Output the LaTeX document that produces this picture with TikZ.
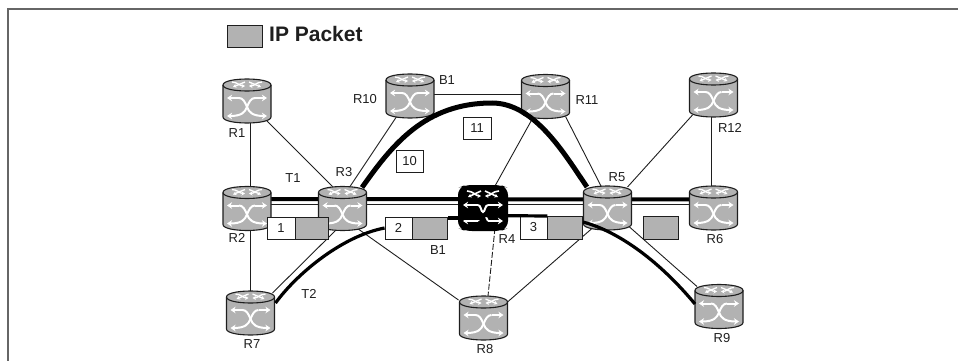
\documentclass[tikz,border=0pt]{standalone}
\usepackage{fontspec}
\setmainfont{Liberation Sans}
\usetikzlibrary{arrows.meta,backgrounds}
\definecolor{rgray}{HTML}{B2B2B2}
\definecolor{ink}{HTML}{1E1E1E}
\tikzset{
  routerbase/.style={minimum width=48pt,minimum height=44pt,inner sep=0pt,outer sep=0pt},
  lab/.style={font=\fontsize{13}{15}\selectfont,text=ink,inner sep=0pt},
  thin link/.style={draw=ink,line width=0.9pt},
  thick link/.style={draw=black,line width=3.2pt},
  thicker link/.style={draw=black,line width=4pt},
  arch link/.style={draw=black,line width=5pt},
  numbox/.style={draw=ink,line width=0.9pt,fill=white,inner sep=0pt,font=\fontsize{13}{15}\selectfont,text=ink},
  pktbox/.style={draw=ink,line width=0.9pt,fill=rgray,inner sep=0pt},
  wa/.style={draw=white,line width=2pt,-{Stealth[length=5pt,width=6.5pt]}},
  wb/.style={draw=white,line width=1.3pt,-{Stealth[length=3.5pt,width=4pt]}},
}
% cylinder body
\newcommand\cylbody[2]{%
  \path[fill=#1,draw=#2,line width=1.1pt] (-24,-16) .. controls (-24,-24) and (24,-24) .. (24,-16)
     -- (24,16) .. controls (24,24) and (-24,24) .. (-24,16) -- cycle;
  \path[draw=#2,line width=1.1pt] (-24,-16) .. controls (-24,-8) and (24,-8) .. (24,-16);
}
\newcommand\rtopglyphs{%
  \draw[wb] (-15,-19) .. controls (-10,-19) and (-7,-15) .. (-2,-15);
  \draw[wb] (-2,-19) -- (-14,-14);
  \draw[wb] (15,-19) .. controls (10,-19) and (7,-15) .. (2,-15);
  \draw[wb] (2,-19) -- (14,-14);
}
\newcommand\router[3]{%
  \node[routerbase] (#1) at (#2,#3) {};
  \begin{scope}[shift={(#2,#3)}]
    \cylbody{rgray}{ink}
    \rtopglyphs
    \draw[wa] (-8,-3) .. controls (-4,-3) and (-2,1) .. (0,6) .. controls (2,11) and (5,15) .. (20,15);
    \draw[wa] (8,-3) .. controls (4,-3) and (2,1) .. (0,6) .. controls (-2,11) and (-5,15) .. (-20,15);
    \draw[wa] (-8,-3) -- (-20,-3);
    \draw[wa] (8,-3) -- (20,-3);
  \end{scope}
}
\newcommand\blackrouter[3]{%
  \node[routerbase] (#1) at (#2,#3) {};
  \begin{scope}[shift={(#2,#3)}]
    \path[fill=black,rounded corners=7pt] (-25,-20) -- (-18,-23) -- (18,-23) -- (25,-20) -- (25,20) -- (18,23) -- (-18,23) -- (-25,20) -- cycle;
    \draw[wb,line width=1.6pt] (-16,-17) .. controls (-10,-17) and (-7,-12) .. (-2,-12);
    \draw[wb,line width=1.6pt] (-2,-17) -- (-15,-11);
    \draw[wb,line width=1.6pt] (16,-17) .. controls (10,-17) and (7,-12) .. (2,-12);
    \draw[wb,line width=1.6pt] (2,-17) -- (15,-11);
    \draw[wa] (-5,-3) -- (-20,-3);
    \draw[wa] (5,-3) -- (20,-3);
    \draw[draw=white,line width=2pt] (-5,-3) .. controls (-2,-3) and (-2,4) .. (0,4) .. controls (2,4) and (2,-3) .. (5,-3);
    \draw[wa] (-5,13) -- (-20,13);
    \draw[wa] (5,13) -- (20,13);
    \draw[draw=white,line width=2pt] (-5,13) -- (-3,9);
    \draw[draw=white,line width=2pt] (5,13) -- (3,9);
  \end{scope}
}
\begin{document}
\begin{tikzpicture}[x=1pt,y=-1pt]
\useasboundingbox (0,0) rectangle (958,361);
% frame
\draw[draw=black!60,line width=2pt] (958,9.5) coordinate (frameR) -- (7.5,9.5) coordinate (frameC) -- (7.5,361) coordinate (frameB);

% routers
\router{R1}{247}{101}
\router{R2}{247}{208.5}
\router{R3}{342.5}{208.5}
\router{R7}{250.5}{313}
\router{R10}{410}{96}
\router{R11}{545.5}{96.5}
\router{R12}{713.5}{95}
\router{R5}{607.5}{208}
\router{R6}{713.5}{208}
\blackrouter{R4}{483}{208}
\router{R8}{483.5}{318}
\router{R9}{719}{306.5}

% thin and horizontal connectors, behind the routers
\begin{scope}[on background layer]
  \draw[thin link] ([shift={(3,20)}]R1.center) -- ([shift={(3,-20)}]R2.center);
  \draw[thin link] ([shift={(20,20)}]R1.center) -- ([shift={(-10,-22)}]R3.center);
  \draw[thin link] ([shift={(3,20)}]R2.center) -- ([shift={(-0.5,-20)}]R7.center);
  \draw[thin link] ([shift={(-13,20)}]R10.center) -- ([shift={(7.5,-22)}]R3.center);
  \draw[thin link] ([shift={(15,20)}]R3.center) -- ([shift={(-25,-18)}]R8.center);
  \draw[thin link] ([shift={(-5,20)}]R3.center) -- ([shift={(22,-20)}]R7.center);
  \draw[thin link] ([yshift=2]R10.center) -- ([yshift=2.5]R11.center);
  \draw[thin link] ([shift={(20,20)}]R11.center) -- ([shift={(-6.5,-22)}]R5.center);
  \draw[thin link] ([shift={(-13,22)}]R11.center) -- ([shift={(12,-22)}]R4.center);
  \draw[thin link] ([shift={(20,-21)}]R5.center) -- ([shift={(-21,20)}]R12.center);
  \draw[thin link] ([shift={(-2.5,20)}]R12.center) -- ([shift={(-2.5,-20)}]R6.center);
  \draw[thin link] ([shift={(-15,20)}]R5.center) -- ([shift={(24,-16)}]R8.center);
  \draw[thin link,dash pattern=on 6pt off 2pt] ([shift={(12,20)}]R4.center) -- ([shift={(4.5,-22)}]R8.center);
  \draw[thin link] ([shift={(22,19)}]R5.center) -- ([shift={(-22,-20)}]R9.center);
  % main double line
  \draw[thicker link] ([yshift=9.5]R2.center) -- ([yshift=8.5]R6.center);
  \draw[draw=ink,line width=1.4pt] ([yshift=4]R2.center) -- ([yshift=3.5]R6.center);
\end{scope}

% packet boxes
\node[numbox,minimum width=28pt,minimum height=22pt] (n1) at (281,228) {1};
\node[pktbox,minimum width=33pt,minimum height=22pt,anchor=west] (p1) at (n1.east) {};
\node[numbox,minimum width=27pt,minimum height=22pt] (n2) at (398.5,228) {2};
\node[pktbox,minimum width=35pt,minimum height=22pt,anchor=west] (p2) at (n2.east) {};
\node[numbox,minimum width=27pt,minimum height=23pt] (n3) at (533.5,227.5) {3};
\node[pktbox,minimum width=35pt,minimum height=23pt,anchor=west] (p3) at (n3.east) {};
\node[pktbox,minimum width=35pt,minimum height=23pt] (p4) at (660.5,227.5) {};
\node[numbox,minimum width=27pt,minimum height=22pt] (n10) at (409.5,161) {10};
\node[numbox,minimum width=28pt,minimum height=22pt] (n11) at (477,128) {11};

% thick tunnels
\draw[thick link] ([shift={(25,-10)}]R7.center) .. controls +(22,-30) and +(-42,8) .. (n2.west);
\draw[thick link] ([shift={(0,-10)}]p2.east) -- ([shift={(0,10)}]R4.center);
\draw[thick link] ([shift={(0,7.5)}]R4.center) -- ([shift={(0,-11.5)}]n3.east);
\draw[thick link] ([shift={(-24.5,14)}]R5.center) .. controls +(37,10) and +(-35,-42) .. ([shift={(-24,-2.5)}]R9.center);
\draw[arch link] ([shift={(19.5,-21)}]R3.center) .. controls (392,145) and (425,103) .. (492,103) coordinate (archtop)
   .. controls (535,103) and (565,155) .. ([shift={(-20.5,-21)}]R5.center);

% legend
\node[pktbox,minimum width=35pt,minimum height=22pt] (legend) at (244.5,36) {};
\node[anchor=west,inner sep=0pt,text=ink,font=\fontsize{21}{24}\selectfont\bfseries] (legendtext) at (269,34) {IP Packet};

% labels
\node[lab] (l1) at (237,133) {R1};
\node[lab] (l2) at (237,238) {R2};
\node[lab] (l3) at (344,172) {R3};
\node[lab] (l4) at (507,239) {R4};
\node[lab] (l5) at (617,177) {R5};
\node[lab] (l6) at (715,239) {R6};
\node[lab] (l7) at (252,344) {R7};
\node[lab] (l8) at (485,349) {R8};
\node[lab] (l9) at (722,338) {R9};
\node[lab] (l10) at (365,99) {R10};
\node[lab] (l11) at (587,100) {R11};
\node[lab] (l12) at (730,128) {R12};
\node[lab] (t1) at (293,178) {T1};
\node[lab] (t2) at (309,294) {T2};
\node[lab] (b1a) at (447,80) {B1};
\node[lab] (b1b) at (438,250) {B1};
\end{tikzpicture}
\end{document}
